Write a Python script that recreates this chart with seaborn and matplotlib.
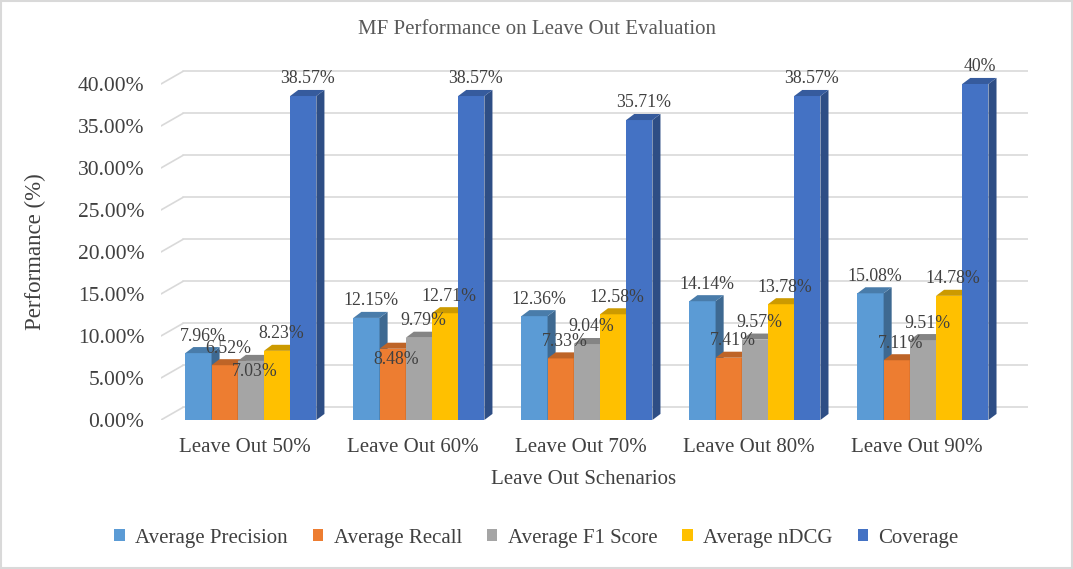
import numpy as np
import pandas as pd
import matplotlib
matplotlib.use("Agg")
import matplotlib.pyplot as plt
import matplotlib.colors as mcolors
from matplotlib.patches import Polygon, Patch, Rectangle
from matplotlib.ticker import PercentFormatter
import seaborn as sns

# Data (percent)
scenarios = ["Leave Out 50%", "Leave Out 60%", "Leave Out 70%", "Leave Out 80%", "Leave Out 90%"]
metrics = ["Average Precision", "Average Recall", "Average F1 Score", "Average nDCG", "Coverage"]
precision = [7.96, 12.15, 12.36, 14.14, 15.08]
recall = [6.52, 8.48, 7.33, 7.41, 7.11]
f1_score = [7.03, 9.79, 9.04, 9.57, 9.51]
ndcg = [8.23, 12.71, 12.58, 13.78, 14.78]
coverage = [38.57, 38.57, 35.71, 38.57, 40]

colors = ["#5B9BD5", "#ED7D31", "#A5A5A5", "#FFC000", "#4472C4"]

# labels Excel pushed down into the bar (metric index, scenario index)
labels_inside = {(2, 0), (1, 1)}

df = pd.DataFrame({
    "scenario": scenarios * 5,
    "metric": np.repeat(metrics, len(scenarios)),
    "value": precision + recall + f1_score + ndcg + coverage,
})

sns.set_theme(style="white")
plt.rcParams['font.family'] = ['Liberation Serif', 'DejaVu Serif']
text_color = "#404040"

fig = plt.figure(figsize=(10.73, 5.69), dpi=100)
ax = fig.add_axes([0.150, 0.2619, 0.808, 0.6200])

sns.barplot(data=df, x="scenario", y="value", hue="metric", hue_order=metrics,
            palette=colors, saturation=1, width=0.78, linewidth=0,
            legend=False, ax=ax)

ax.set_xlim(-0.5, 4.66)
ax.set_ylim(0, 42)

# fake 3D depth of each bar (data units)
ddx, ddy = 0.048, 0.72
# depth of the back wall for grid lines
gx, gy = 0.131, 1.5
shift = 0.035

def shade(c, f):
    r, g, b = mcolors.to_rgb(c)
    return (r * f, g * f, b * f)

for i, cont in enumerate(ax.containers):
    for j, bar in enumerate(cont):
        bar.set_x(bar.get_x() + shift)
        x, w, h = bar.get_x(), bar.get_width(), bar.get_height()
        bar.set_zorder(3 + i)
        side = Polygon([(x + w, 0), (x + w + ddx, ddy), (x + w + ddx, h + ddy), (x + w, h)],
                       closed=True, facecolor=shade(colors[i], 0.68), edgecolor="none", zorder=3 + i)
        top = Polygon([(x, h), (x + ddx, h + ddy), (x + w + ddx, h + ddy), (x + w, h)],
                      closed=True, facecolor=shade(colors[i], 0.8), edgecolor="none", zorder=3 + i)
        ax.add_patch(side)
        ax.add_patch(top)
        if (i, j) in labels_inside:
            ty, va = h - 1.3, "center"
        else:
            ty, va = h + ddy + 0.3, "bottom"
        ax.text(x + w / 2 + ddx / 2, ty, f"{h:g}%", ha="center", va=va,
                fontsize=12.8, color=text_color, zorder=20)

# grid lines on the back wall with a slanted floor edge on the left
yticks = np.arange(0, 41, 5)
for t in yticks:
    ax.plot([-0.5, -0.5 + gx], [t, t + gy], color="#D9D9D9", lw=1.2, zorder=1)
    ax.plot([-0.5 + gx, 4.66], [t + gy, t + gy], color="#D9D9D9", lw=1.2, zorder=1)

ax.set_yticks(yticks)
ax.yaxis.set_major_formatter(PercentFormatter(100, decimals=2))
ax.tick_params(axis="y", length=0, pad=12, labelsize=15.5, labelcolor=text_color)
ax.tick_params(axis="x", length=0, pad=13, labelsize=15, labelcolor=text_color)
for s in ax.spines.values():
    s.set_visible(False)
ax.grid(False)

ax.set_xlabel("Leave Out Schenarios", fontsize=15, color=text_color)
ax.xaxis.set_label_coords(0.487, -0.170)
ax.xaxis.label.set_va("center")
ax.set_ylabel("Performance (%)", fontsize=16.5, color=text_color)
ax.yaxis.set_label_coords(-0.1453, 0.476)
ax.yaxis.label.set_va("center")

fig.text(0.5, 1 - 30 / 569, "MF Performance on Leave Out Evaluation", ha="center", va="center",
         fontsize=15, color="#595959")

handles = [Patch(facecolor=c, edgecolor="none") for c in colors]
fig.legend(handles, metrics, loc="center", bbox_to_anchor=(0.5, 1 - 538 / 569), ncol=5,
           frameon=False, fontsize=15, handlelength=0.5, handleheight=0.5,
           columnspacing=1.2, handletextpad=0.5, labelcolor=text_color)

fig.add_artist(Rectangle((0.001, 0.002), 0.998, 0.996, transform=fig.transFigure,
                         fill=False, edgecolor="#D9D9D9", lw=1.5))

fig.savefig("out.png", dpi=100)
